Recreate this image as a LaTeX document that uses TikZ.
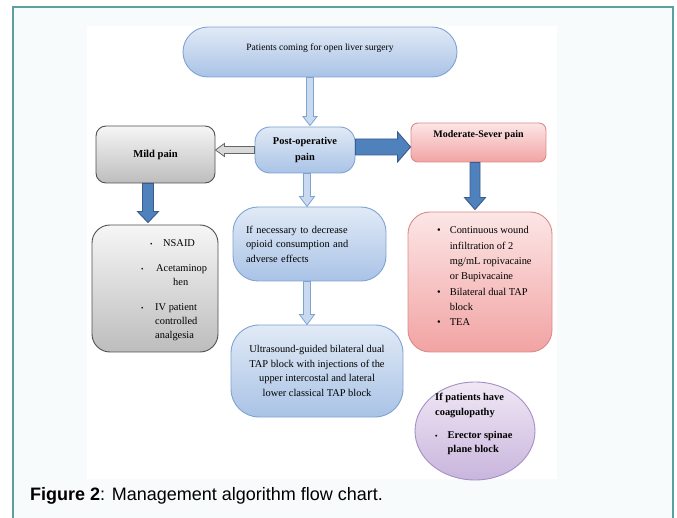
\documentclass[tikz,border=0pt]{standalone}
\usepackage{fontspec}
\setmainfont{Liberation Serif}
\newfontfamily\capfont{Liberation Sans}
\usetikzlibrary{shapes.geometric,calc}
\definecolor{framec}{HTML}{5C9FA1}
\definecolor{panelbg}{HTML}{F8FBFB}
\definecolor{bluedraw}{HTML}{7EA3D3}
\definecolor{bluetop}{HTML}{E1EAF6}
\definecolor{bluebot}{HTML}{A9C3E6}
\definecolor{graydraw}{HTML}{505050}
\definecolor{graytop}{HTML}{F6F6F6}
\definecolor{graybot}{HTML}{BDBDBD}
\definecolor{pinkdraw}{HTML}{DC8A8A}
\definecolor{pinktop}{HTML}{FCE6E6}
\definecolor{pinkbot}{HTML}{F2A3A3}
\definecolor{purpdraw}{HTML}{A48FC4}
\definecolor{purptop}{HTML}{F0E8F5}
\definecolor{purpbot}{HTML}{C9B5DD}
\definecolor{darkfill}{HTML}{4F81BD}
\definecolor{darkline}{HTML}{385D8A}
\definecolor{lightfill}{HTML}{C9DAF0}
\definecolor{lightline}{HTML}{7EA3D3}
\definecolor{grayfill}{HTML}{D9D9D9}
\definecolor{grayline}{HTML}{666666}
\newcommand\varr[6]{\draw[#1] let \p1=(#2), \p2=(#3) in
  ({\x1-#4pt},\y1) -- ({\x1-#4pt},{\y2+#6pt}) -- ({\x1-#5pt},{\y2+#6pt}) -- (\x1,\y2)
  -- ({\x1+#5pt},{\y2+#6pt}) -- ({\x1+#4pt},{\y2+#6pt}) -- ({\x1+#4pt},\y1) -- cycle;}
\newcommand\harr[6]{\draw[#1] let \p1=(#2), \p2=(#3), \n2={sign(\x2-\x1)*#6pt} in
  (\x1,{\y1+#4pt}) -- ({\x2-\n2},{\y1+#4pt}) -- ({\x2-\n2},{\y1+#5pt}) -- (\x2,\y1)
  -- ({\x2-\n2},{\y1-#5pt}) -- ({\x2-\n2},{\y1-#4pt}) -- (\x1,{\y1-#4pt}) -- cycle;}
\newcommand\smallbul{{\fontsize{7}{7}\selectfont\textbullet}}
\begin{document}
\begin{tikzpicture}[x=1pt,y=-1pt,
  txt/.style={font=\fontsize{10.4}{14.6}\selectfont, text=black},
  bluebox/.style={draw=bluedraw, line width=0.9pt, top color=bluetop, bottom color=bluebot, inner sep=0pt},
  graybox/.style={draw=graydraw, line width=0.9pt, top color=graytop, bottom color=graybot, inner sep=0pt},
  pinkbox/.style={draw=pinkdraw, line width=0.9pt, top color=pinktop, bottom color=pinkbot, inner sep=0pt},
  purpbox/.style={draw=purpdraw, line width=0.9pt, top color=purptop, bottom color=purpbot, inner sep=0pt},
  darkarr/.style={fill=darkfill, draw=darkline, line width=0.9pt, line join=miter},
  lightarr/.style={fill=lightfill, draw=lightline, line width=0.8pt},
  grayarr/.style={fill=grayfill, draw=grayline, line width=0.8pt},
  plain/.style={inner sep=0pt, text=black}
]
\useasboundingbox (0,0) rectangle (677,518);
\fill[white] (0,0) rectangle (677,518);
\draw[framec, line width=2pt, fill=panelbg] (13,7) rectangle (673,530);
\fill[white] (87,26) rectangle (557,479);

% nodes
\node[bluebox, rounded corners=25pt, minimum width=274pt, minimum height=50pt,
  font=\fontsize{9.6}{12}\selectfont, text height=7pt, text depth=9pt] (top) at (320,52) {Patients coming for open liver surgery};
\node[bluebox, rounded corners=15pt, minimum width=100pt, minimum height=46pt,
  font=\bfseries\fontsize{10.4}{16}\selectfont, align=center] (post) at (305,150) {Post-operative\\pain};
\node[graybox, rounded corners=10pt, minimum width=119pt, minimum height=57pt,
  font=\bfseries\fontsize{10.6}{14}\selectfont] (mild) at (155.5,154.5) {Mild pain};
\node[pinkbox, rounded corners=7pt, minimum width=135pt, minimum height=39pt,
  font=\bfseries\fontsize{10}{14}\selectfont, text height=7pt, text depth=17pt] (mod) at (478.5,142.5) {Moderate-Sever pain};
\node[graybox, rounded corners=18pt, minimum width=126pt, minimum height=127pt] (mildlist) at (155,288.5) {};
\node[pinkbox, rounded corners=22pt, minimum width=144pt, minimum height=140pt] (modlist) at (480,282) {};
\node[bluebox, rounded corners=25pt, minimum width=153pt, minimum height=74pt,
  txt, text width=127pt, align=left] (nec) at (309.5,244)
  {If necessary to decrease\\opioid consumption and\\adverse effects};
\node[bluebox, rounded corners=28pt, minimum width=172pt, minimum height=92pt,
  txt, align=center] (ultra) at (317,371)
  {Ultrasound-guided bilateral dual\\TAP block with injections of the\\upper intercostal and lateral\\lower classical TAP block};
\node[purpbox, ellipse, minimum width=120pt, minimum height=98pt] (coag) at (475,431) {};

% list texts
\node[plain, txt, anchor=base west] (ml1) at (150,246.5) {\makebox[13pt][l]{\smallbul}NSAID};
\node[plain, txt, anchor=base west] (ml2) at (141,271.5) {\makebox[15pt][l]{\smallbul}Acetaminop};
\node[plain, txt, anchor=base west] (ml3) at (173,285.5) {hen};
\node[plain, txt, anchor=base west] (ml4) at (141,310.5) {\makebox[14pt][l]{\smallbul}IV patient};
\node[plain, txt, anchor=base west] (ml5) at (155,324.5) {controlled};
\node[plain, txt, anchor=base west] (ml6) at (155,338.5) {analgesia};

\node[plain, font=\fontsize{10.4}{15.3}\selectfont, anchor=north west] (modtxt) at (437,223)
  {\begin{tabular}{@{}l@{\hspace{9pt}}l@{}}
   \textbullet & Continuous wound\\
   & infiltration of 2\\
   & mg/mL ropivacaine\\
   & or Bupivacaine\\
   \textbullet & Bilateral dual TAP\\
   & block\\
   \textbullet & TEA
   \end{tabular}};

\node[plain, font=\bfseries\fontsize{10.4}{14.8}\selectfont, anchor=north west] (coagtxt) at (435,390)
  {\begin{tabular}{@{}l@{\hspace{10pt}}l@{}}
   \multicolumn{2}{@{}l@{}}{If patients have}\\
   \multicolumn{2}{@{}l@{}}{coagulopathy}\\[8pt]
   \smallbul & Erector spinae\\
   & plane block
   \end{tabular}};

% caption
\node[plain, anchor=base west, font=\capfont\fontsize{18}{21}\selectfont] (cap) at (30,500)
  {\textbf{Figure 2}: Management algorithm flow chart.};

% connectors
\coordinate (a1x) at (310,0);
\coordinate (a6x) at (307,0);
\coordinate (a4x) at (148,0);
\coordinate (a5x) at (475,0);
\coordinate (a3) at ($(post.east)+(0,-3)$);
\varr{lightarr}{top.south -| a1x}{$(post.north -| a1x)+(0,-1)$}{3.5}{7}{9}
\harr{grayarr}{post.west}{mild.east |- post.west}{3.5}{6.5}{9}
\harr{darkarr}{a3}{mod.west |- a3}{8}{15}{13}
\varr{darkarr}{mild.south -| a4x}{$(mildlist.north -| a4x)+(0,-2)$}{5.5}{10.5}{11}
\varr{darkarr}{mod.south -| a5x}{$(modlist.north -| a5x)+(0,-2)$}{5}{10.5}{12}
\varr{lightarr}{post.south -| a6x}{nec.north -| a6x}{3.5}{7.5}{10}
\varr{lightarr}{nec.south -| a6x}{ultra.north -| a6x}{3.5}{7.5}{10}
\end{tikzpicture}
\end{document}
